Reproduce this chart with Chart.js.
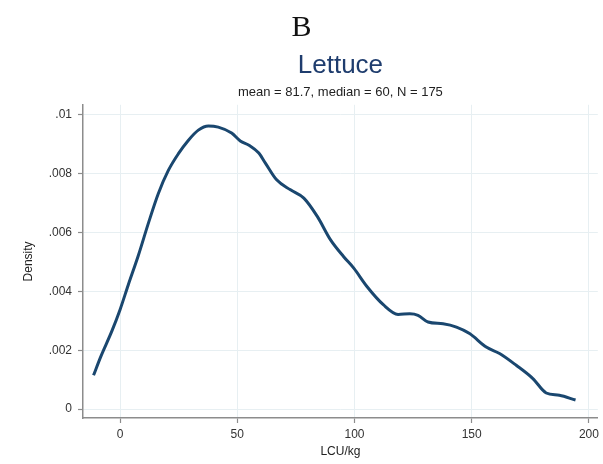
<!DOCTYPE html>
<html>
<head>
<meta charset="utf-8">
<script src="https://cdn.jsdelivr.net/npm/chart.js@4/dist/chart.umd.min.js"></script>
<style>
  html, body { margin: 0; padding: 0; background: #fff; }
  #wrap { position: relative; width: 603px; height: 464px; }
  #panel { position: absolute; left: 0; width: 603px; top: 11px; text-align: center;
           font-family: "Liberation Serif", "DejaVu Serif", serif; font-size: 30px; line-height: 1; color: #111; }
  canvas { position: absolute; left: 0; top: 0; }
</style>
</head>
<body>
<div id="wrap">
  <canvas id="c" width="603" height="464"></canvas>
  <div id="panel">B</div>
</div>
<script>
// Kernel density estimate of lettuce price (LCU/kg)
const priceLCU = [-11.3, -8.3, -3.5, 0, 3.5, 7.8, 12.1, 16.3, 20.6, 24.9, 29.1, 33.4, 37.7, 41.9, 47.6, 51.3, 55.2, 59.2, 62, 66.8, 72.7, 78.4, 84.2, 89.8, 95.4, 99.7, 105.4, 112.3, 118.6, 123.6, 127.1, 131.4, 137.8, 143.5, 149.1, 156.2, 161.9, 169, 176.1, 181.8, 187.4, 194.3];
const density = [0.00115, 0.00177, 0.00265, 0.00338, 0.00422, 0.00522, 0.00632, 0.00732, 0.00811, 0.00868, 0.00913, 0.00948, 0.00962, 0.00958, 0.00938, 0.00911, 0.00896, 0.00870, 0.00836, 0.00779, 0.00745, 0.00717, 0.00654, 0.00575, 0.00518, 0.00479, 0.00416, 0.00355, 0.00322, 0.00324, 0.00319, 0.00296, 0.00290, 0.00279, 0.00257, 0.00211, 0.00189, 0.00149, 0.00104, 0.00055, 0.00047, 0.00031];
const xTicks = [0, 50, 100, 150, 200];
const yTicks = [0, 0.002, 0.004, 0.006, 0.008, 0.01];
const yTickLabels = ['0', '.002', '.004', '.006', '.008', '.01'];
const titleText = 'Lettuce';
const subtitleText = 'mean = 81.7, median = 60, N = 175';
const xTitle = 'LCU/kg';
const yTitle = 'Density';

const points = priceLCU.map((x, i) => ({ x: x, y: density[i] }));
const sans = '"Liberation Sans", Arial, sans-serif';
const gridCol = '#e7eff2';
const axisCol = '#8c8c8c';

new Chart(document.getElementById('c'), {
  type: 'line',
  data: {
    datasets: [{
      data: points,
      borderColor: '#1a476f',
      borderWidth: 3,
      pointRadius: 0,
      fill: false,
      cubicInterpolationMode: 'monotone'
    }]
  },
  options: {
    responsive: false,
    animation: false,
    events: [],
    layout: { padding: { top: 45, right: 5, left: 0, bottom: 0 } },
    plugins: {
      legend: { display: false },
      tooltip: { enabled: false },
      title: {
        display: true, text: titleText, fullSize: false,
        color: '#1f3d6e', font: { family: sans, size: 26, weight: 'normal', lineHeight: 1.2 },
        padding: { top: 5, bottom: 3 }
      },
      subtitle: {
        display: true, text: subtitleText, fullSize: false,
        color: '#222', font: { family: sans, size: 13, lineHeight: 1.2 },
        padding: { top: 0, bottom: 5 }
      }
    },
    scales: {
      x: {
        type: 'linear', min: -15.8, max: 203.8,
        afterBuildTicks: s => { s.ticks = xTicks.map(v => ({ value: v })); },
        afterFit: s => { s.height = 46; },
        ticks: { color: '#333', font: { family: sans, size: 12 }, padding: 4, maxRotation: 0,
                 callback: v => String(v) },
        grid: { color: gridCol, lineWidth: 1, drawTicks: true, tickLength: 5, tickColor: axisCol, tickWidth: 1.2 },
        border: { display: true, color: axisCol, width: 1.5 },
        title: { display: true, text: xTitle, color: '#222', font: { family: sans, size: 12 }, padding: { top: 0, bottom: 5 } }
      },
      y: {
        type: 'linear', min: -0.0003, max: 0.01034,
        afterBuildTicks: s => { s.ticks = yTicks.map(v => ({ value: v })); },
        afterFit: s => { s.width = 83; },
        ticks: { color: '#333', font: { family: sans, size: 12 }, padding: 6,
                 callback: v => { const i = yTicks.findIndex(t => Math.abs(t - v) < 1e-9); return i >= 0 ? yTickLabels[i] : ''; } },
        grid: { color: gridCol, lineWidth: 1, drawTicks: true, tickLength: 5, tickColor: axisCol, tickWidth: 1.2 },
        border: { display: true, color: axisCol, width: 1.5 },
        title: { display: true, text: yTitle, color: '#222', font: { family: sans, size: 12 }, padding: { top: 21, bottom: 0 } }
      }
    }
  }
});
</script>
</body>
</html>
